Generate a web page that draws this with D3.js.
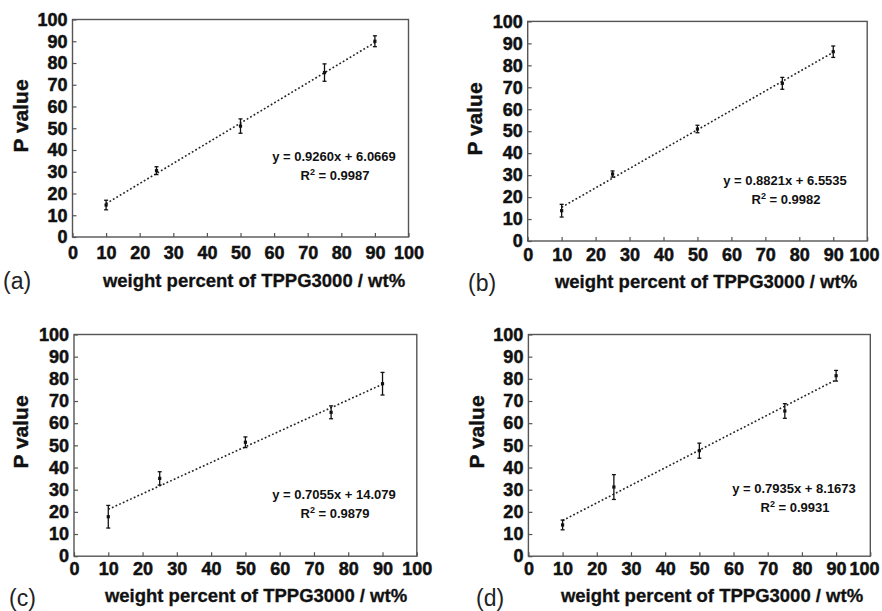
<!DOCTYPE html>
<html>
<head>
<meta charset="utf-8">
<script src="https://cdn.jsdelivr.net/npm/d3@7"></script>
<style>
  body { margin: 0; background: #fff; }
  svg { display: block; font-family: "Liberation Sans", Arial, Helvetica, sans-serif; }
</style>
</head>
<body>
<svg></svg>
<script>
const size = { w: 882, h: 611 };
const svg = d3.select("svg").attr("width", size.w).attr("height", size.h);

// data
const panelNames = ["(a)", "(b)", "(c)", "(d)"];
const xVals = [10, 25, 50, 75, 90];
const means = [
	[14.7, 30.5, 51.0, 75.6, 90.0],
	[13.8, 30.5, 51.0, 71.8, 86.2],
	[17.8, 35.1, 51.4, 64.9, 77.8],
	[14.1, 31.2, 47.6, 65.5, 81.4],
];
const errs = [
	[2.2, 1.8, 3.3, 4.0, 2.5],
	[2.9, 1.4, 1.7, 2.7, 2.6],
	[5.1, 3.0, 2.4, 2.9, 5.1],
	[2.2, 5.6, 3.4, 3.3, 2.4],
];
const slopes = [0.926, 0.8821, 0.7055, 0.7935];
const intercepts = [6.0669, 6.5535, 14.079, 8.1673];
const eqLabels = ["y = 0.9260x + 6.0669", "y = 0.8821x + 6.5535", "y = 0.7055x + 14.079", "y = 0.7935x + 8.1673"];
const r2Labels = ["0.9987", "0.9982", "0.9879", "0.9931"];
const ticks = [0, 10, 20, 30, 40, 50, 60, 70, 80, 90, 100];
const xTitle = "weight percent of TPPG3000 / wt%";
const yTitle = "P value";

// where each panel sits on the page
const layout = [
	{ l: 72.5, r: 408.5, t: 19.5, b: 237, xPad: 9.5, yT: [20, 116], xT: [254, 287], tag: [3, 289], eq: [334, 156] },
	{ l: 527.7, r: 867.2, t: 21.4, b: 241, xPad: 7, yT: [474, 119], xT: [706, 288], tag: [468, 291], eq: [785, 180] },
	{ l: 74, r: 416.8, t: 334.5, b: 556.2, xPad: 6, yT: [20, 432], xT: [256, 602], tag: [9, 606], eq: [334, 494] },
	{ l: 528.4, r: 870.3, t: 334.5, b: 556.2, xPad: 6, yT: [476, 432], xT: [712, 602], tag: [476, 606], eq: [794, 488] },
];

const frameColor = "#555";

layout.forEach(function (p, i) {
	const g = svg.append("g").classed("panel", true);
	const x = d3.scaleLinear().domain([0, 100]).range([p.l, p.r]);
	const y = d3.scaleLinear().domain([0, 100]).range([p.b, p.t]);

	// axes with inward ticks
	const yAxis = g.append("g")
		.attr("transform", "translate(" + p.l + ",0)")
		.call(d3.axisLeft(y).tickValues(ticks).tickSize(-4).tickPadding(5));
	const xAxis = g.append("g")
		.attr("transform", "translate(0," + p.b + ")")
		.call(d3.axisBottom(x).tickValues(ticks).tickSize(-4).tickPadding(p.xPad));

	[xAxis, yAxis].forEach(function (ax) {
		ax.select(".domain").remove();
		ax.attr("font-family", null).attr("font-size", null);
		ax.selectAll(".tick line").attr("stroke", frameColor).attr("stroke-width", 1.2);
		ax.selectAll(".tick text")
			.style("font-family", "'Liberation Sans', Arial, sans-serif")
			.style("font-size", "18px")
			.style("font-weight", "bold")
			.attr("fill", "#111")
			.attr("stroke", "#111")
			.attr("stroke-width", 0.5);
	});

	// keep the last x label inside the page on the right-hand panels
	xAxis.selectAll(".tick text")
		.filter(function (d) { return d === 100 && p.r > 860; })
		.attr("dx", -(p.r + 16 - (size.w - 2)));

	g.append("rect")
		.attr("x", p.l).attr("y", p.t)
		.attr("width", p.r - p.l).attr("height", p.b - p.t)
		.attr("fill", "none")
		.attr("stroke", frameColor)
		.attr("stroke-width", 1.4);

	// fitted line
	const line = d3.line()
		.x(function (d) { return x(d); })
		.y(function (d) { return y(slopes[i] * d + intercepts[i]); });
	g.append("path")
		.attr("d", line([xVals[0], xVals[xVals.length - 1]]))
		.attr("fill", "none")
		.attr("stroke", "#222")
		.attr("stroke-width", 1.6)
		.attr("stroke-dasharray", "1.8,2.2");

	// error bars
	const pts = xVals.map(function (xv, j) {
		return { x: xv, m: means[i][j], e: errs[i][j] };
	});
	const eb = g.selectAll("g.err").data(pts).enter().append("g").classed("err", true)
		.attr("stroke", "#111").attr("stroke-width", 1.3);
	eb.append("line")
		.attr("x1", function (d) { return x(d.x); })
		.attr("x2", function (d) { return x(d.x); })
		.attr("y1", function (d) { return y(d.m - d.e); })
		.attr("y2", function (d) { return y(d.m + d.e); });
	eb.append("line")
		.attr("x1", function (d) { return x(d.x) - 2; })
		.attr("x2", function (d) { return x(d.x) + 2; })
		.attr("y1", function (d) { return y(d.m + d.e); })
		.attr("y2", function (d) { return y(d.m + d.e); });
	eb.append("line")
		.attr("x1", function (d) { return x(d.x) - 2; })
		.attr("x2", function (d) { return x(d.x) + 2; })
		.attr("y1", function (d) { return y(d.m - d.e); })
		.attr("y2", function (d) { return y(d.m - d.e); });
	g.selectAll("rect.pt").data(pts).enter().append("rect").classed("pt", true)
		.attr("x", function (d) { return x(d.x) - 1.6; })
		.attr("y", function (d) { return y(d.m) - 1.6; })
		.attr("width", 3.2).attr("height", 3.2)
		.attr("fill", "#111");

	// equation text
	const eq = g.append("g")
		.attr("font-size", 13)
		.attr("font-weight", "bold")
		.attr("fill", "#111")
		.attr("text-anchor", "middle");
	eq.append("text")
		.attr("x", p.eq[0]).attr("y", p.eq[1] + 4.6)
		.text(eqLabels[i]);
	const r2 = eq.append("text")
		.attr("x", p.eq[0] + 1).attr("y", p.eq[1] + 23.6);
	r2.append("tspan").text("R");
	r2.append("tspan").attr("font-size", 9).attr("dy", -5).text("2");
	r2.append("tspan").attr("dy", 5).text(" = " + r2Labels[i]);

	// titles
	g.append("text")
		.attr("transform", "translate(" + p.yT[0] + "," + p.yT[1] + ") rotate(-90)")
		.attr("text-anchor", "middle")
		.attr("dy", "0.36em")
		.attr("font-size", 21)
		.attr("font-weight", "bold")
		.attr("fill", "#111")
		.attr("stroke", "#111")
		.attr("stroke-width", 0.4)
		.text(yTitle);
	g.append("text")
		.attr("x", p.xT[0]).attr("y", p.xT[1])
		.attr("text-anchor", "middle")
		.attr("font-size", 18.5)
		.attr("font-weight", "bold")
		.attr("fill", "#111")
		.attr("stroke", "#111")
		.attr("stroke-width", 0.3)
		.text(xTitle);
	g.append("text")
		.attr("x", p.tag[0]).attr("y", p.tag[1])
		.attr("font-size", 23)
		.attr("fill", "#222")
		.text(panelNames[i]);
});
</script>
</body>
</html>
